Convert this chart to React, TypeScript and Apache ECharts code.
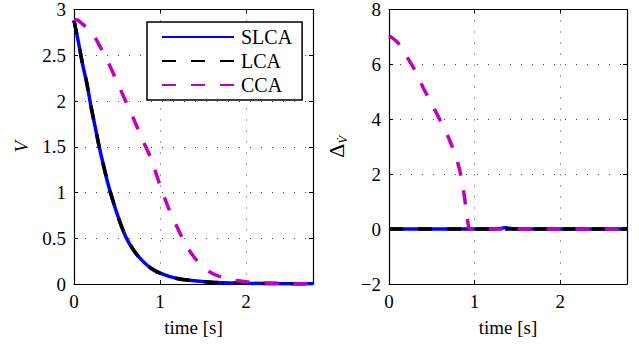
import React, { useEffect, useRef } from "react";
import * as echarts from "echarts";

const timeSlca = [0, 0.05, 0.1, 0.15, 0.2, 0.25, 0.3, 0.35, 0.4, 0.5, 0.6, 0.7, 0.8, 0.9, 1.0, 1.2, 1.4, 1.6, 1.8, 2.0, 2.4, 2.78];
const vSlca = [2.88, 2.65, 2.4, 2.19, 1.93, 1.7, 1.47, 1.27, 1.08, 0.77, 0.52, 0.36, 0.25, 0.17, 0.12, 0.06, 0.035, 0.02, 0.012, 0.008, 0.004, 0.002];
const vLca = [2.88, 2.65, 2.4, 2.19, 1.93, 1.7, 1.47, 1.27, 1.08, 0.77, 0.52, 0.36, 0.25, 0.17, 0.12, 0.06, 0.035, 0.02, 0.012, 0.008, 0.004, 0.002];

const timeCca = [0, 0.05, 0.1, 0.2, 0.3, 0.4, 0.5, 0.6, 0.7, 0.8, 0.9, 1.0, 1.1, 1.2, 1.3, 1.4, 1.5, 1.6, 1.7, 1.8, 2.0, 2.2, 2.5, 2.78];
const vCca = [2.89, 2.88, 2.84, 2.76, 2.6, 2.42, 2.21, 2.0, 1.79, 1.57, 1.36, 1.08, 0.83, 0.62, 0.43, 0.29, 0.19, 0.12, 0.08, 0.05, 0.025, 0.012, 0.005, 0.002];

const timeDelta = [0, 0.1, 0.2, 0.3, 0.4, 0.5, 0.6, 0.7, 0.8, 0.85, 0.9, 0.93, 0.95, 1.0, 1.2, 1.3, 1.35, 1.4, 1.5, 2.0, 2.78];
const dSlca = [0, 0, 0, 0, 0, 0, 0, 0, 0, 0, 0, 0, 0, 0, 0, 0.02, 0.05, 0.03, 0, 0, 0];
const dLca = [0, 0, 0, 0, 0, 0, 0, 0, 0, 0, 0, 0, 0, 0, 0, 0, 0, 0, 0, 0, 0];
const dCca = [7.05, 6.8, 6.32, 5.8, 5.15, 4.55, 3.95, 3.3, 2.45, 1.8, 0.75, 0.08, 0, 0, 0, 0, 0, 0, 0, 0, 0];

const seriesNames = ["SLCA", "LCA", "CCA"];
const xTicksMax = 2.78;

const pairs = (t: number[], v: number[]) => t.map((x, i) => [x, v[i]]);

const FONT = "Liberation Serif";
const FS = 19;
const BLUE = "#0000ff";
const BLACK = "#000000";
const MAG = "#c000c0";

export default function App() {
  const ref = useRef<HTMLDivElement>(null);
  useEffect(() => {
    if (!ref.current) return;
    const chart = echarts.init(ref.current, undefined, { renderer: "svg" });
    const gridLine = () => ({ show: true, lineStyle: { color: "#444", width: 1, type: [1, 10] } });
    const axisLine = () => ({ show: true, onZero: false, lineStyle: { color: "#000", width: 1.2 } });
    const tick = () => ({ show: true, inside: true, length: 4, lineStyle: { color: "#000" } });
    const mkX = (gi: number, pos: "bottom" | "top") => ({
      type: "value",
      gridIndex: gi,
      position: pos,
      min: 0,
      max: xTicksMax,
      interval: 1,
      axisLine: axisLine(),
      axisTick: tick(),
      splitLine: pos === "bottom" ? gridLine() : { show: false },
      axisLabel:
        pos === "bottom"
          ? { show: true, color: "#000", fontFamily: FONT, fontSize: FS, margin: 8, showMaxLabel: false }
          : { show: false },
      name: pos === "bottom" ? "time [s]" : "",
      nameLocation: "middle",
      nameGap: 34,
      nameTextStyle: { color: "#000", fontFamily: FONT, fontSize: FS },
    });
    const mkY = (gi: number, pos: "left" | "right", min: number, max: number, interval: number, name: string, gap: number, rich?: any) => {
      const o: any = {
        type: "value",
        gridIndex: gi,
        position: pos,
        min,
        max,
        interval,
        axisLine: axisLine(),
        axisTick: tick(),
        splitLine: pos === "left" ? gridLine() : { show: false },
        axisLabel:
          pos === "left"
            ? {
                show: true,
                color: "#000",
                fontFamily: FONT,
                fontSize: FS,
                margin: 8,
                formatter: (v: number) => (v < 0 ? "\u2212" + Math.abs(v) : String(v)),
              }
            : { show: false },
        name: pos === "left" ? name : "",
        nameLocation: "middle",
        nameGap: gap,
        nameTextStyle: { color: "#000", fontFamily: FONT, fontSize: FS, fontStyle: "italic" },
      };
      if (rich) o.nameTextStyle.rich = rich;
      return o;
    };
    const lineSeries = (name: string, xi: number, data: number[][], color: string, dash: any, z: number) => ({
      type: "line",
      name,
      xAxisIndex: xi,
      yAxisIndex: xi,
      data,
      showSymbol: false,
      symbol: "none",
      smooth: 0.3,
      z,
      lineStyle: { color, width: 3.5, type: dash },
      itemStyle: { color },
    });
    chart.setOption({
      animation: false,
      backgroundColor: "#fff",
      grid: [
        { left: 74, top: 9, width: 239, height: 275 },
        { left: 389, top: 9, width: 238, height: 275 },
      ],
      legend: {
        data: seriesNames,
        orient: "vertical",
        left: 147,
        top: 22,
        padding: [5, 10, 5, 14],
        itemWidth: 72,
        itemHeight: 14,
        itemGap: 4,
        borderColor: "#000",
        borderWidth: 1.5,
        backgroundColor: "#fff",
        itemStyle: { opacity: 0 },
        textStyle: { color: "#000", fontFamily: FONT, fontSize: 20, padding: [0, 0, 0, 2] },
      },
      xAxis: [mkX(0, "bottom"), mkX(1, "bottom"), mkX(0, "top"), mkX(1, "top")],
      yAxis: [
        mkY(0, "left", 0, 3, 0.5, "V", 43),
        mkY(1, "left", -2, 8, 2, "{d|\u0394}{s|V\u0307}", 40, {
          d: { fontFamily: FONT, fontSize: 22, fontStyle: "normal", color: "#000" },
          s: { fontFamily: FONT, fontSize: 13, fontStyle: "italic", color: "#000", verticalAlign: "bottom", padding: [12, 0, 0, 0] },
        }),
        mkY(0, "right", 0, 3, 0.5, "", 0),
        mkY(1, "right", -2, 8, 2, "", 0),
      ],
      series: [
        lineSeries("SLCA", 0, pairs(timeSlca, vSlca), BLUE, "solid", 2),
        lineSeries("LCA", 0, pairs(timeSlca, vLca), BLACK, [14, 15], 3),
        lineSeries("CCA", 0, pairs(timeCca, vCca), MAG, [14, 15], 4),
        lineSeries("SLCA", 1, pairs(timeDelta, dSlca), BLUE, "solid", 2),
        lineSeries("LCA", 1, pairs(timeDelta, dLca), BLACK, [14, 15], 3),
        lineSeries("CCA", 1, pairs(timeDelta, dCca), MAG, [14, 15], 4),
      ],
    });
    return () => chart.dispose();
  }, []);
  return <div ref={ref} style={{ width: 639, height: 347, position: "absolute", left: 0, top: 0 }} />;
}
